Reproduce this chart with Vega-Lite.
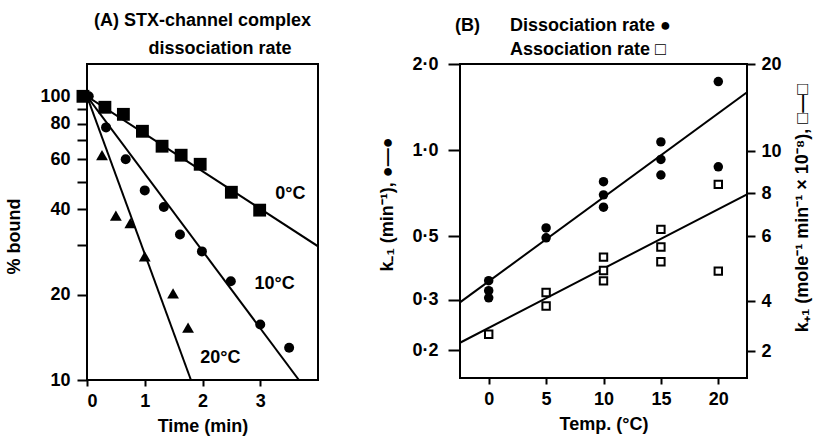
{
  "$schema": "https://vega.github.io/schema/vega-lite/v6.json",
  "background": "white",
  "padding": {"left": 4, "top": 11, "right": 0, "bottom": 0},
  "config": {
    "font": "Liberation Sans",
    "view": {"stroke": "black", "strokeWidth": 2},
    "axis": {
      "labelFont": "Liberation Sans", "labelFontSize": 18, "labelFontWeight": "bold", "labelColor": "black",
      "titleFont": "Liberation Sans", "titleFontSize": 18, "titleFontWeight": "bold", "titleColor": "black",
      "grid": false, "domain": false, "tickColor": "black", "tickWidth": 2
    },
    "title": {
      "font": "Liberation Sans", "fontSize": 18, "fontWeight": "bold", "color": "black"
    },
    "concat": {"spacing": 58}
  },
  "datasets": {
    "a_points": [
      {"series": "0°C", "t": -0.07, "pct": 100},
      {"series": "0°C", "t": 0.31, "pct": 91.5},
      {"series": "0°C", "t": 0.63, "pct": 86.4},
      {"series": "0°C", "t": 0.96, "pct": 75.3},
      {"series": "0°C", "t": 1.3, "pct": 66.7},
      {"series": "0°C", "t": 1.63, "pct": 62},
      {"series": "0°C", "t": 1.96, "pct": 57.6},
      {"series": "0°C", "t": 2.5, "pct": 45.9},
      {"series": "0°C", "t": 2.99, "pct": 39.7},
      {"series": "10°C", "t": 0.03, "pct": 100},
      {"series": "10°C", "t": 0.33, "pct": 77.7},
      {"series": "10°C", "t": 0.67, "pct": 60},
      {"series": "10°C", "t": 1.0, "pct": 46.6},
      {"series": "10°C", "t": 1.33, "pct": 40.7},
      {"series": "10°C", "t": 1.61, "pct": 32.6},
      {"series": "10°C", "t": 1.99, "pct": 28.4},
      {"series": "10°C", "t": 2.49, "pct": 22.3},
      {"series": "10°C", "t": 3.0, "pct": 15.7},
      {"series": "10°C", "t": 3.5, "pct": 13.0},
      {"series": "20°C", "t": 0.26, "pct": 62},
      {"series": "20°C", "t": 0.5, "pct": 38},
      {"series": "20°C", "t": 0.75, "pct": 35.7},
      {"series": "20°C", "t": 1.0, "pct": 27.3},
      {"series": "20°C", "t": 1.49, "pct": 20.2},
      {"series": "20°C", "t": 1.75, "pct": 15.3}
    ],
    "a_lines": [
      {"series": "0°C", "t": 0, "pct": 100},
      {"series": "0°C", "t": 4, "pct": 29.6},
      {"series": "10°C", "t": 0, "pct": 100},
      {"series": "10°C", "t": 3.67, "pct": 10},
      {"series": "20°C", "t": 0, "pct": 100},
      {"series": "20°C", "t": 1.8, "pct": 10}
    ],
    "a_labels": [
      {"label": "0°C", "t": 3.26, "pct": 45.2},
      {"label": "10°C", "t": 2.9, "pct": 21.8},
      {"label": "20°C", "t": 1.96, "pct": 12.0}
    ],
    "diss_points": [
      {"temp": 0, "k": 0.35}, {"temp": 0, "k": 0.323}, {"temp": 0, "k": 0.305},
      {"temp": 5, "k": 0.535}, {"temp": 5, "k": 0.494},
      {"temp": 10, "k": 0.776}, {"temp": 10, "k": 0.698}, {"temp": 10, "k": 0.632},
      {"temp": 15, "k": 1.069}, {"temp": 15, "k": 0.928}, {"temp": 15, "k": 0.819},
      {"temp": 20, "k": 1.736}, {"temp": 20, "k": 0.875}
    ],
    "diss_line": [
      {"temp": -2.5, "k": 0.294}, {"temp": 22.5, "k": 1.594}
    ],
    "assoc_points": [
      {"temp": 0, "k": 2.67},
      {"temp": 5, "k": 4.26}, {"temp": 5, "k": 3.8},
      {"temp": 10, "k": 5.35}, {"temp": 10, "k": 4.94}, {"temp": 10, "k": 4.62},
      {"temp": 15, "k": 6.31}, {"temp": 15, "k": 5.66}, {"temp": 15, "k": 5.21},
      {"temp": 20, "k": 4.92}, {"temp": 20, "k": 8.41}
    ],
    "assoc_line": [
      {"temp": -2.5, "k": 2.33}, {"temp": 22.5, "k": 7.94}
    ]
  },
  "hconcat": [
    {
      "width": 231,
      "height": 316,
      "title": {"text": ["(A) STX-channel complex", "\u200b\u00a0\u00a0\u00a0\u00a0\u00a0\u00a0\u00a0dissociation rate"], "anchor": "middle", "lineHeight": 28, "offset": 6},
      "encoding": {
        "x": {"field": "t", "type": "quantitative", "scale": {"domain": [0, 4], "nice": false},
              "axis": {"values": [0, 1, 2, 3], "title": "Time (min)", "tickSize": 6, "labelPadding": 6, "titlePadding": 7}},
        "y": {"field": "pct", "type": "quantitative", "scale": {"type": "log", "domain": [10, 130], "nice": false},
              "axis": {"values": [10, 20, 30, 40, 50, 60, 70, 80, 90, 100],
                       "labelExpr": "(datum.value == 30 || datum.value == 50 || datum.value == 70 || datum.value == 90) ? '' : datum.value",
                       "title": "% bound", "titleY": 172, "tickSize": 10, "labelPadding": 7, "titlePadding": 16}}
      },
      "layer": [
        {"data": {"name": "a_lines"}, "mark": {"type": "line", "color": "black", "strokeWidth": 2, "clip": true},
         "encoding": {"detail": {"field": "series"}}},
        {"data": {"name": "a_points"}, "transform": [{"filter": "datum.series == '0°C'"}],
         "mark": {"type": "point", "shape": "square", "filled": true, "color": "black", "opacity": 1, "size": 165}},
        {"data": {"name": "a_points"}, "transform": [{"filter": "datum.series == '10°C'"}],
         "mark": {"type": "point", "shape": "circle", "filled": true, "color": "black", "opacity": 1, "size": 100}},
        {"data": {"name": "a_points"}, "transform": [{"filter": "datum.series == '20°C'"}],
         "mark": {"type": "point", "shape": "triangle-up", "filled": true, "color": "black", "opacity": 1, "size": 140}},
        {"data": {"name": "a_labels"}, "mark": {"type": "text", "align": "left", "baseline": "middle", "fontSize": 18, "fontWeight": "bold", "font": "Liberation Sans", "color": "black"},
         "encoding": {"text": {"field": "label"}}}
      ]
    },
    {
      "width": 287,
      "height": 314,
      "title": {"text": ["(B)\u00a0\u00a0\u00a0\u00a0\u00a0\u00a0Dissociation rate ●", "\u200b\u00a0\u00a0\u00a0\u00a0\u00a0\u00a0\u00a0\u00a0\u00a0\u00a0\u00a0Association rate □"], "anchor": "start", "frame": "group", "lineHeight": 24, "offset": -4, "dx": -5},
      "layer": [
        {
          "encoding": {
            "x": {"field": "temp", "type": "quantitative", "scale": {"domain": [-2.5, 22.5], "nice": false},
                  "axis": {"values": [0, 5, 10, 15, 20], "title": "Temp. (°C)", "tickSize": 6, "labelPadding": 6, "titlePadding": 7}},
            "y": {"field": "k", "type": "quantitative", "scale": {"type": "log", "domain": [0.16, 2.0], "nice": false},
                  "axis": {"values": [0.2, 0.3, 0.5, 1, 2], "labelExpr": "replace(format(datum.value, '.1f'), '.', '·')",
                           "title": "k₋₁ (min⁻¹), ●—●", "titleY": 140, "tickSize": 12, "labelPadding": 10, "titlePadding": 15}}
          },
          "layer": [
            {"data": {"name": "diss_line"}, "mark": {"type": "line", "color": "black", "strokeWidth": 2, "clip": true}},
            {"data": {"name": "diss_points"}, "mark": {"type": "point", "shape": "circle", "filled": true, "color": "black", "opacity": 1, "size": 90}}
          ]
        },
        {
          "encoding": {
            "x": {"field": "temp", "type": "quantitative", "scale": {"domain": [-2.5, 22.5], "nice": false}},
            "y": {"field": "k", "type": "quantitative",
                  "scale": {"type": "linear", "domain": [2, 4, 6, 8, 10, 20], "range": [287, 237, 172, 129, 87, 0], "nice": false, "zero": false},
                  "axis": {"orient": "right", "values": [2, 4, 6, 8, 10, 20], "title": "k₊₁ (mole⁻¹ min⁻¹ × 10⁻⁸), □—□",
                           "titleAngle": 270, "tickSize": 8, "labelPadding": 6, "titlePadding": 30}}
          },
          "layer": [
            {"data": {"name": "assoc_line"}, "mark": {"type": "line", "color": "black", "strokeWidth": 2, "clip": true}},
            {"data": {"name": "assoc_points"}, "mark": {"type": "point", "shape": "square", "filled": false, "color": "black", "fill": "white", "strokeWidth": 2, "opacity": 1, "size": 55}}
          ]
        }
      ],
      "resolve": {"scale": {"y": "independent"}, "axis": {"y": "independent"}}
    }
  ]
}
